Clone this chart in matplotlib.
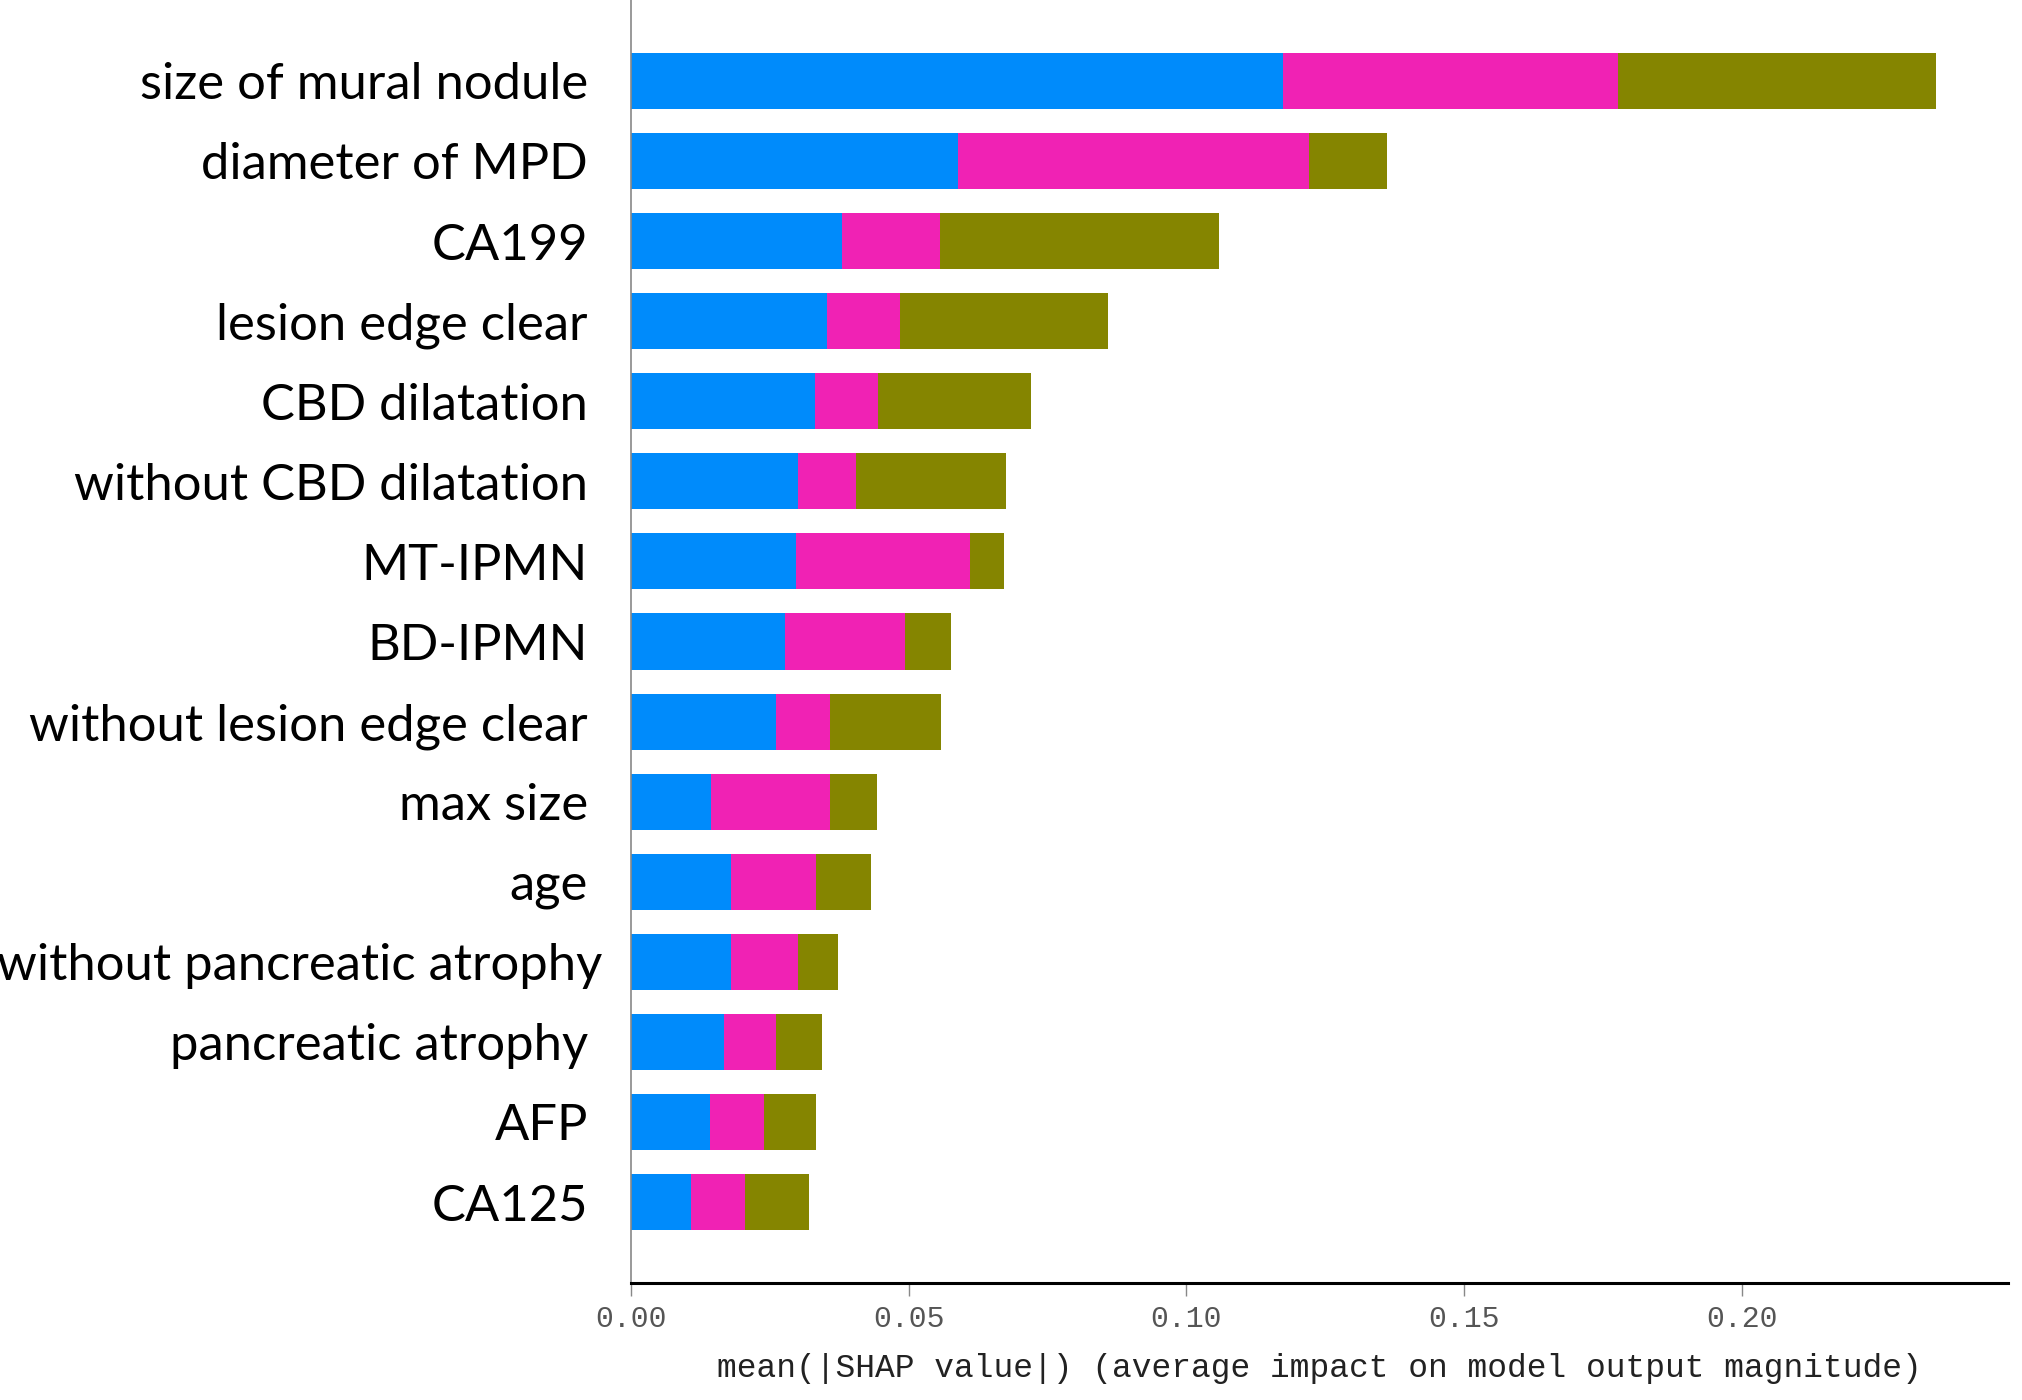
import numpy as np
import matplotlib
matplotlib.use("Agg")
import matplotlib.pyplot as plt
from matplotlib.transforms import ScaledTranslation


# feature names, top to bottom
features = [
    "size of mural nodule", "diameter of MPD", "CA199", "lesion edge clear",
    "CBD dilatation", "without CBD dilatation", "MT-IPMN", "BD-IPMN",
    "without lesion edge clear", "max size", "age", "without pancreatic atrophy",
    "pancreatic atrophy", "AFP", "CA125",
]

# mean |SHAP| per class (stacked: class 0, class 1, class 2)
class0 = [0.1174, 0.0589, 0.0381, 0.0354, 0.0332, 0.0300, 0.0298, 0.0277,
          0.0261, 0.0145, 0.0181, 0.0181, 0.0167, 0.0142, 0.0109]
class1 = [0.0603, 0.0632, 0.0176, 0.0131, 0.0113, 0.0106, 0.0312, 0.0216,
          0.0097, 0.0213, 0.0153, 0.0119, 0.0095, 0.0097, 0.0096]
class2 = [0.0573, 0.0140, 0.0501, 0.0374, 0.0275, 0.0269, 0.0062, 0.0083,
          0.0201, 0.0086, 0.0098, 0.0073, 0.0082, 0.0094, 0.0115]

xticks = [0.00, 0.05, 0.10, 0.15, 0.20]
xlabel = "mean(|SHAP value|) (average impact on model output magnitude)"

colors = ["#008bfb", "#f022b4", "#858500"]

fig = plt.figure(figsize=(20.22, 14), dpi=100)
ax = fig.add_axes([0.312, 0.0836, 0.681, 0.9164])

y = np.arange(len(features))
c0 = np.array(class0)
c1 = np.array(class1)
c2 = np.array(class2)

ax.barh(y, c0, height=0.7, color=colors[0], align="center")
ax.barh(y, c1, height=0.7, left=c0, color=colors[1], align="center")
ax.barh(y, c2, height=0.7, left=c0 + c1, color=colors[2], align="center")

ax.set_ylim(len(features) - 1 + 1.01, -1.01)
ax.set_xlim(0, 0.2479)

ax.set_yticks(y)
ax.set_yticklabels(features, fontsize=36.5, family="Lato", color="black")
ax.tick_params(axis="y", length=0, pad=31)

# the longest label sits a little further right in the original figure
for lab in ax.get_yticklabels():
    if lab.get_text() == "without pancreatic atrophy":
        lab.set_transform(lab.get_transform() + ScaledTranslation(0.14, 0, fig.dpi_scale_trans))

ax.set_xticks(xticks)
ax.set_xticklabels([f"{t:.2f}" for t in xticks], fontsize=21.5,
                   family="Liberation Mono", color="#555555")
ax.tick_params(axis="x", length=9, width=1, color="#888888", direction="out", pad=7)
ax.set_xlabel(xlabel, fontsize=23.7, family="Liberation Mono", color="#222222", labelpad=14)

for side in ["top", "right"]:
    ax.spines[side].set_visible(False)
ax.spines["left"].set_color("#888888")
ax.spines["left"].set_linewidth(1.2)
ax.spines["bottom"].set_color("black")
ax.spines["bottom"].set_linewidth(2.2)

fig.savefig("out.png", dpi=100, facecolor="white")
